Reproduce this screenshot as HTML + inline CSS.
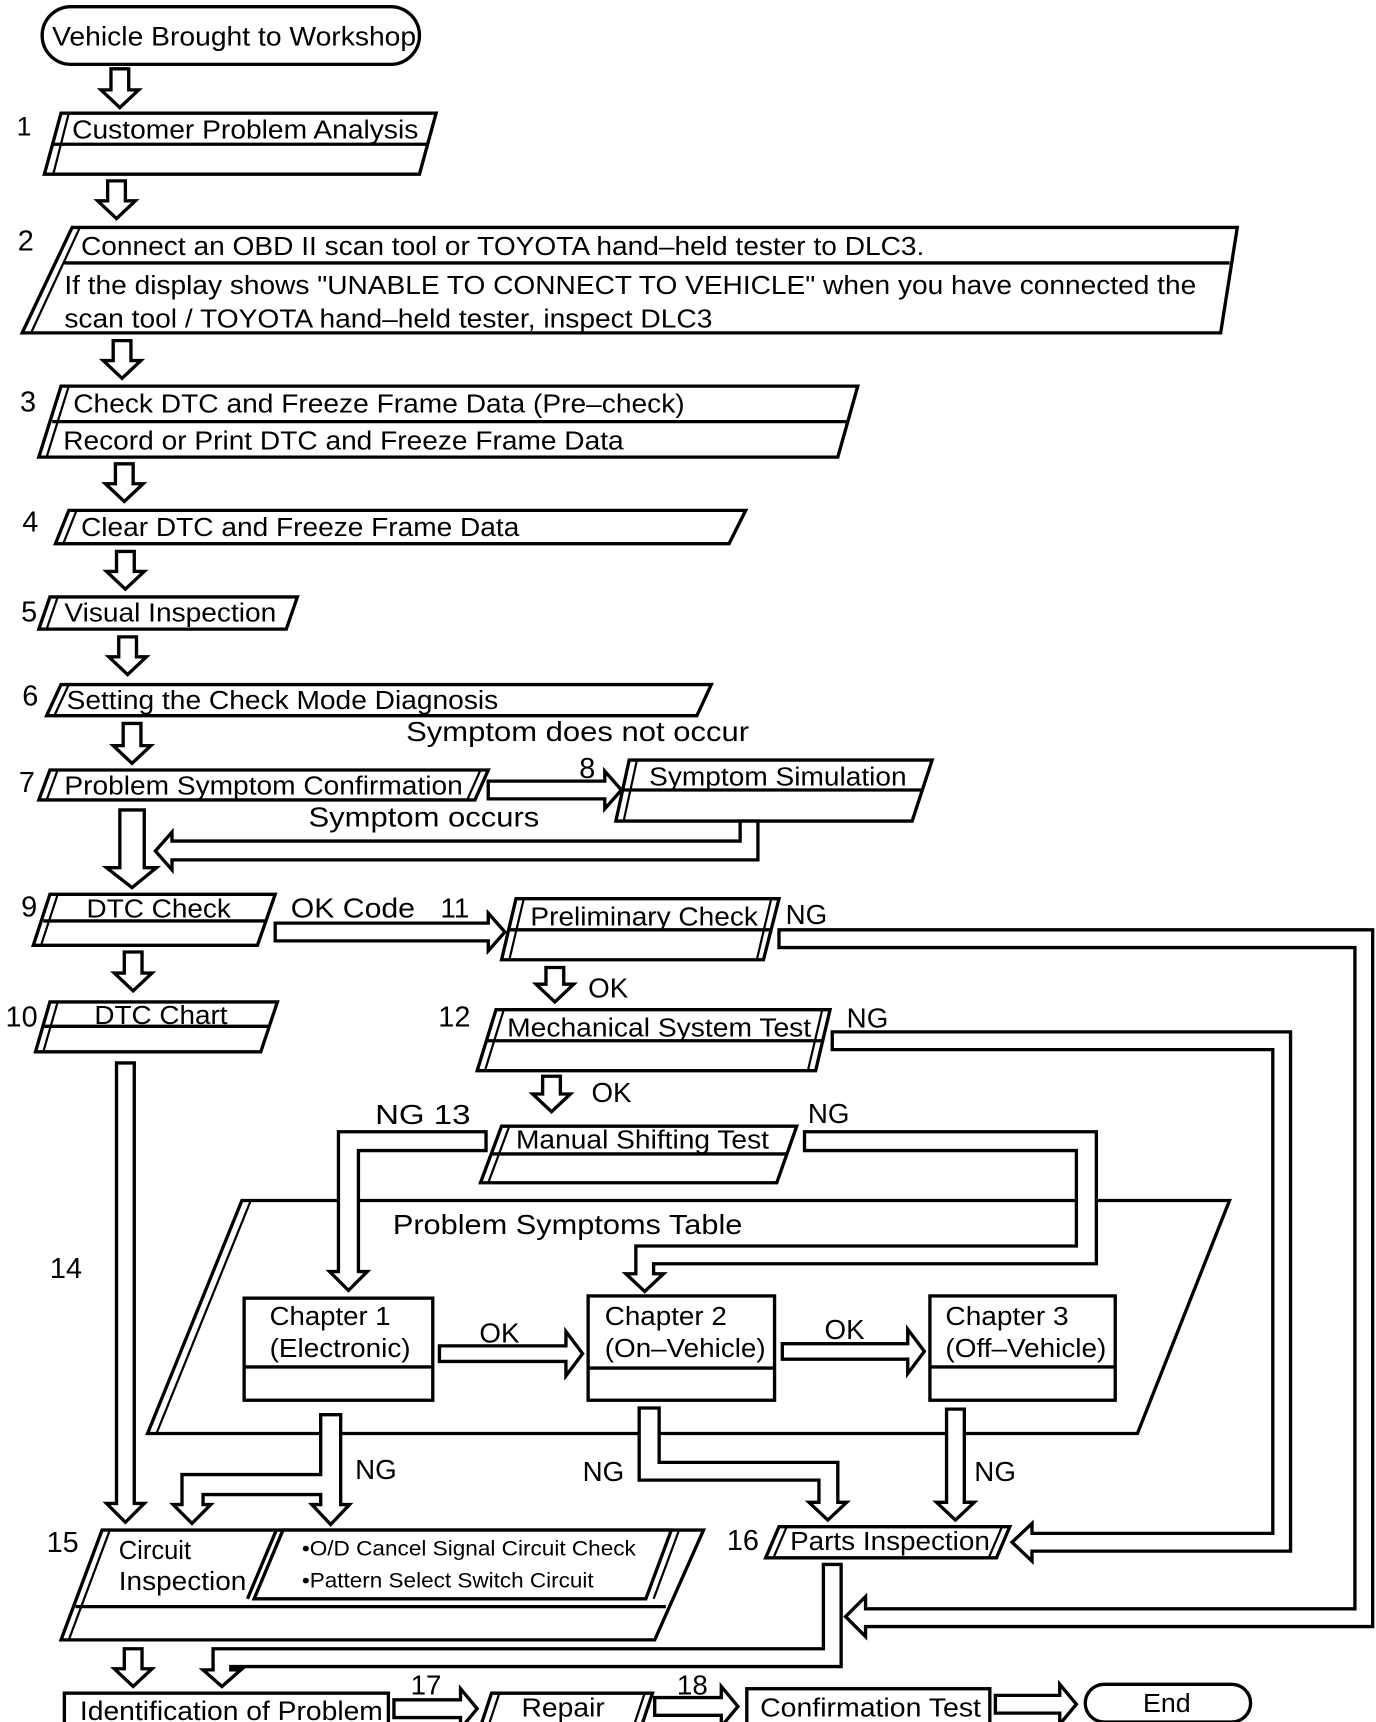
<!DOCTYPE html>
<html><head><meta charset="utf-8"><style>
html,body{margin:0;padding:0;background:#fff;}
svg{display:block;}
text{font-family:"Liberation Sans",sans-serif;fill:#000;}
</style></head><body>
<svg width="1376" height="1722" viewBox="0 0 1240 1552" preserveAspectRatio="none" xmlns="http://www.w3.org/2000/svg">
<g fill="#fff" stroke="#000" stroke-width="3" stroke-linejoin="miter">
<!-- start -->
<rect x="38" y="6" width="340" height="52" rx="26"/>
<!-- box1 -->
<polygon points="55,102 393,102 378,157 40,157"/><line x1="48" y1="130" x2="386" y2="130"/><line x1="62" y1="102" x2="48" y2="157" stroke-width="2"/>
<!-- box2 -->
<polygon points="65,205 1115,205 1100,300 20,300"/><line x1="58" y1="237" x2="1108" y2="237"/><line x1="72" y1="205" x2="28" y2="300" stroke-width="2"/>
<!-- box3 -->
<polygon points="55,348 773,348 755,412 35,412"/><line x1="47" y1="380" x2="764" y2="380"/><line x1="62" y1="348" x2="42" y2="412" stroke-width="2"/>
<!-- box4 -->
<polygon points="62,460 672,460 657,490 50,490"/><line x1="69" y1="460" x2="57" y2="490" stroke-width="2"/>
<!-- box5 -->
<polygon points="45,538 268,538 258,567 35,567"/><line x1="52" y1="538" x2="42" y2="567" stroke-width="2"/>
<!-- box6 -->
<polygon points="55,617 641,617 628,645 42,645"/><line x1="62" y1="617" x2="49" y2="645" stroke-width="2"/>
<!-- box7 -->
<polygon points="45,694 440,694 428,721 35,721"/><line x1="52" y1="694" x2="42" y2="721" stroke-width="2"/><line x1="433" y1="694" x2="421" y2="721" stroke-width="2"/>
<!-- box8 -->
<polygon points="567,685 840,685 822,740 555,740"/><line x1="562" y1="712" x2="831" y2="712"/><line x1="574" y1="685" x2="562" y2="740" stroke-width="2"/>
<!-- box9 -->
<polygon points="45,806 248,806 232,852 30,852"/><line x1="39" y1="830" x2="240" y2="830"/><line x1="52" y1="806" x2="37" y2="852" stroke-width="2"/>
<!-- box10 -->
<polygon points="45,903 250,903 235,948 32,948"/><line x1="39" y1="925" x2="243" y2="925"/><line x1="52" y1="903" x2="39" y2="948" stroke-width="2"/>
<!-- box11 -->
<polygon points="465,810 702,810 688,865 452,865"/><line x1="458" y1="838" x2="695" y2="838"/><line x1="472" y1="810" x2="459" y2="865" stroke-width="2"/><line x1="695" y1="810" x2="682" y2="865" stroke-width="2"/>
<!-- box12 -->
<polygon points="447,910 748,910 735,965 430,965"/><line x1="439" y1="938" x2="742" y2="938"/><line x1="454" y1="910" x2="437" y2="965" stroke-width="2"/><line x1="741" y1="910" x2="728" y2="965" stroke-width="2"/>
<!-- box13 -->
<polygon points="452,1015 718,1015 700,1066 433,1066"/><line x1="443" y1="1040" x2="709" y2="1040"/><line x1="459" y1="1015" x2="440" y2="1066" stroke-width="2"/>
<!-- big table -->
<polygon points="218,1082 1108,1082 1025,1292 133,1292"/><line x1="226" y1="1082" x2="141" y2="1292" stroke-width="2"/>
<!-- chapters -->
<rect x="220" y="1170" width="170" height="92"/><line x1="220" y1="1232" x2="390" y2="1232"/>
<rect x="530" y="1168" width="168" height="94"/><line x1="530" y1="1233" x2="698" y2="1233"/>
<rect x="838" y="1168" width="167" height="94"/><line x1="838" y1="1232" x2="1005" y2="1232"/>
<!-- box15 -->
<polygon points="92,1379 634,1379 590,1478 55,1478"/><line x1="68" y1="1448" x2="600" y2="1448"/><line x1="99" y1="1379" x2="62" y2="1478" stroke-width="2"/>
<polygon points="255,1379 605,1379 582,1441 229,1441"/><line x1="249" y1="1379" x2="223" y2="1441"/><line x1="612" y1="1379" x2="589" y2="1441" stroke-width="2"/>
<!-- box16 -->
<polygon points="702,1376 910,1376 898,1404 690,1404"/><line x1="709" y1="1376" x2="697" y2="1404" stroke-width="2"/><line x1="903" y1="1376" x2="891" y2="1404" stroke-width="2"/>
<!-- bottom row -->
<rect x="58" y="1526" width="292" height="30"/>
<polygon points="443,1526 588,1526 578,1556 433,1556"/><line x1="450" y1="1526" x2="440" y2="1556" stroke-width="2"/><line x1="581" y1="1526" x2="571" y2="1556" stroke-width="2"/>
<rect x="673" y="1522" width="219" height="32"/>
<rect x="978" y="1518" width="149" height="34" rx="17"/>
<!-- arrows -->
<polygon points="100,62 116,62 116,81 125,81 108,97 91,81 100,81"/>
<polygon points="97,163 113,163 113,181 122,181 105,197 88,181 97,181"/>
<polygon points="102,307 118,307 118,325 127,325 110,341 93,325 102,325"/>
<polygon points="104,418 120,418 120,436 129,436 112,452 95,436 104,436"/>
<polygon points="105,497 121,497 121,515 130,515 113,531 96,515 105,515"/>
<polygon points="107,574 123,574 123,592 132,592 115,608 98,592 107,592"/>
<polygon points="111,652 127,652 127,672 136,672 119,688 102,672 111,672"/>
<polygon points="108,730 130,730 130,782 141,782 119,800 96,782 108,782"/>
<polygon points="112,858 128,858 128,877 137,877 120,893 103,877 112,877"/>
<polygon points="492,872 508,872 508,887 517,887 500,903 483,887 492,887"/>
<polygon points="489,970 505,970 505,986 514,986 497,1002 480,986 489,986"/>
<polygon points="105,958 121,958 121,1355 130,1355 113,1372 96,1355 105,1355"/>
<polygon points="112,1486 128,1486 128,1504 137,1504 120,1520 103,1504 112,1504"/>
<polygon points="853,1270 869,1270 869,1354 878,1354 861,1370 844,1354 853,1354"/>
<polygon points="440,704 545,704 545,695 560,712 545,729 545,720 440,720"/>
<polygon points="248,832 440,832 440,823 455,840 440,857 440,848 248,848"/>
<polygon points="396,1213 510,1213 510,1200 525,1220 510,1240 510,1227 396,1227"/>
<polygon points="705,1211 818,1211 818,1198 833,1218 818,1238 818,1225 705,1225"/>
<polygon points="355,1532 415,1532 415,1522 430,1540 415,1558 415,1548 355,1548"/>
<polygon points="590,1530 650,1530 650,1520 665,1538 650,1556 650,1546 590,1546"/>
<polygon points="897,1528 955,1528 955,1518 970,1536 955,1554 955,1544 897,1544"/>
<polygon points="667,740 683,740 683,775 155,775 155,784 140,767 155,750 155,758 667,758"/>
<polygon points="702,838 1237,838 1237,1466 780,1466 780,1475 762,1457 780,1439 780,1450 1221,1450 1221,854 702,854"/>
<polygon points="750,930 1163,930 1163,1398 930,1398 930,1407 912,1390 930,1373 930,1382 1147,1382 1147,946 750,946"/>
<polygon points="438,1020 305,1020 305,1146 297,1146 314,1163 331,1146 323,1146 323,1037 438,1037"/>
<polygon points="725,1020 988,1020 988,1139 589,1139 589,1148 598,1148 581,1164 564,1148 573,1148 573,1123 970,1123 970,1037 725,1037"/>
<polygon points="289,1275 307,1275 307,1356 315,1356 298,1374 281,1356 289,1356 289,1347 183,1347 183,1356 190,1356 173,1373 156,1356 164,1356 164,1329 289,1329"/>
<polygon points="576,1269 594,1269 594,1318 755,1318 755,1354 763,1354 746,1370 729,1354 738,1354 738,1334 576,1334"/>
<polygon points="742,1410 758,1410 758,1502 208,1502 208,1505 217,1505 200,1520 183,1505 192,1505 192,1486 742,1486"/>
</g>
<g font-size="23" lengthAdjust="spacingAndGlyphs">
<text x="47" y="41" font-size="24" textLength="328" lengthAdjust="spacingAndGlyphs">Vehicle Brought to Workshop</text>
<text x="15" y="122" font-size="24">1</text>
<text x="65" y="125" textLength="312" lengthAdjust="spacingAndGlyphs">Customer Problem Analysis</text>
<text x="16" y="226" font-size="26">2</text>
<text x="73" y="230" textLength="760" lengthAdjust="spacingAndGlyphs">Connect an OBD II scan tool or TOYOTA hand–held tester to DLC3.</text>
<text x="58" y="265" textLength="1020" lengthAdjust="spacingAndGlyphs">If the display shows "UNABLE TO CONNECT TO VEHICLE" when you have connected the</text>
<text x="58" y="295" textLength="584" lengthAdjust="spacingAndGlyphs">scan tool / TOYOTA hand–held tester, inspect DLC3</text>
<text x="18" y="371" font-size="26">3</text>
<text x="66" y="372" textLength="551" lengthAdjust="spacingAndGlyphs">Check DTC and Freeze Frame Data (Pre–check)</text>
<text x="57" y="405" textLength="505" lengthAdjust="spacingAndGlyphs">Record or Print DTC and Freeze Frame Data</text>
<text x="20" y="479" font-size="26">4</text>
<text x="73" y="483" textLength="395" lengthAdjust="spacingAndGlyphs">Clear DTC and Freeze Frame Data</text>
<text x="19" y="560" font-size="26">5</text>
<text x="58" y="560" textLength="191" lengthAdjust="spacingAndGlyphs">Visual Inspection</text>
<text x="20" y="636" font-size="26">6</text>
<text x="60" y="639" textLength="389" lengthAdjust="spacingAndGlyphs">Setting the Check Mode Diagnosis</text>
<text x="366" y="668" font-size="25" textLength="309" lengthAdjust="spacingAndGlyphs">Symptom does not occur</text>
<text x="17" y="714" font-size="26">7</text>
<text x="58" y="716" textLength="359" lengthAdjust="spacingAndGlyphs">Problem Symptom Confirmation</text>
<text x="522" y="701" font-size="26">8</text>
<text x="585" y="708" textLength="232" lengthAdjust="spacingAndGlyphs">Symptom Simulation</text>
<text x="278" y="745" font-size="25" textLength="208" lengthAdjust="spacingAndGlyphs">Symptom occurs</text>
<text x="19" y="826" font-size="26">9</text>
<text x="78" y="827" textLength="130" lengthAdjust="spacingAndGlyphs">DTC Check</text>
<text x="262" y="827" font-size="25" textLength="112" lengthAdjust="spacingAndGlyphs">OK Code</text>
<text x="397" y="827" font-size="25">11</text>
<text x="478" y="834" textLength="205" lengthAdjust="spacingAndGlyphs">Preliminary Check</text>
<text x="708" y="833" font-size="25">NG</text>
<text x="530" y="899" font-size="25">OK</text>
<text x="5" y="925" font-size="26">10</text>
<text x="85" y="923" textLength="120" lengthAdjust="spacingAndGlyphs">DTC Chart</text>
<text x="395" y="925" font-size="26">12</text>
<text x="457" y="934" textLength="274" lengthAdjust="spacingAndGlyphs">Mechanical System Test</text>
<text x="763" y="926" font-size="25">NG</text>
<text x="533" y="993" font-size="25">OK</text>
<text x="338" y="1013" font-size="25" textLength="86" lengthAdjust="spacingAndGlyphs">NG 13</text>
<text x="465" y="1035" textLength="228" lengthAdjust="spacingAndGlyphs">Manual Shifting Test</text>
<text x="728" y="1012" font-size="25">NG</text>
<text x="354" y="1112" font-size="25" textLength="315" lengthAdjust="spacingAndGlyphs">Problem Symptoms Table</text>
<text x="45" y="1152" font-size="26">14</text>
<text x="243" y="1194" textLength="109" lengthAdjust="spacingAndGlyphs">Chapter 1</text>
<text x="243" y="1223" textLength="127" lengthAdjust="spacingAndGlyphs">(Electronic)</text>
<text x="545" y="1194" textLength="110" lengthAdjust="spacingAndGlyphs">Chapter 2</text>
<text x="545" y="1223" textLength="145" lengthAdjust="spacingAndGlyphs">(On–Vehicle)</text>
<text x="852" y="1194" textLength="111" lengthAdjust="spacingAndGlyphs">Chapter 3</text>
<text x="852" y="1223" textLength="145" lengthAdjust="spacingAndGlyphs">(Off–Vehicle)</text>
<text x="432" y="1210" font-size="25">OK</text>
<text x="743" y="1207" font-size="25">OK</text>
<text x="320" y="1333" font-size="25">NG</text>
<text x="525" y="1335" font-size="25">NG</text>
<text x="878" y="1335" font-size="25">NG</text>
<text x="42" y="1399" font-size="26">15</text>
<text x="107" y="1405">Circuit</text>
<text x="107" y="1433" textLength="115" lengthAdjust="spacingAndGlyphs">Inspection</text>
<text x="272" y="1402" font-size="19" textLength="301" lengthAdjust="spacingAndGlyphs">•O/D Cancel Signal Circuit Check</text>
<text x="272" y="1431" font-size="19" textLength="263" lengthAdjust="spacingAndGlyphs">•Pattern Select Switch Circuit</text>
<text x="655" y="1397" font-size="26">16</text>
<text x="712" y="1397" textLength="180" lengthAdjust="spacingAndGlyphs">Parts Inspection</text>
<text x="72" y="1550" font-size="24" textLength="273" lengthAdjust="spacingAndGlyphs">Identification of Problem</text>
<text x="370" y="1527" font-size="25">17</text>
<text x="470" y="1547" textLength="75" lengthAdjust="spacingAndGlyphs">Repair</text>
<text x="610" y="1527" font-size="25">18</text>
<text x="685" y="1547" textLength="199" lengthAdjust="spacingAndGlyphs">Confirmation Test</text>
<text x="1030" y="1543" textLength="43" lengthAdjust="spacingAndGlyphs">End</text>
</g>
</svg>
</body></html>
